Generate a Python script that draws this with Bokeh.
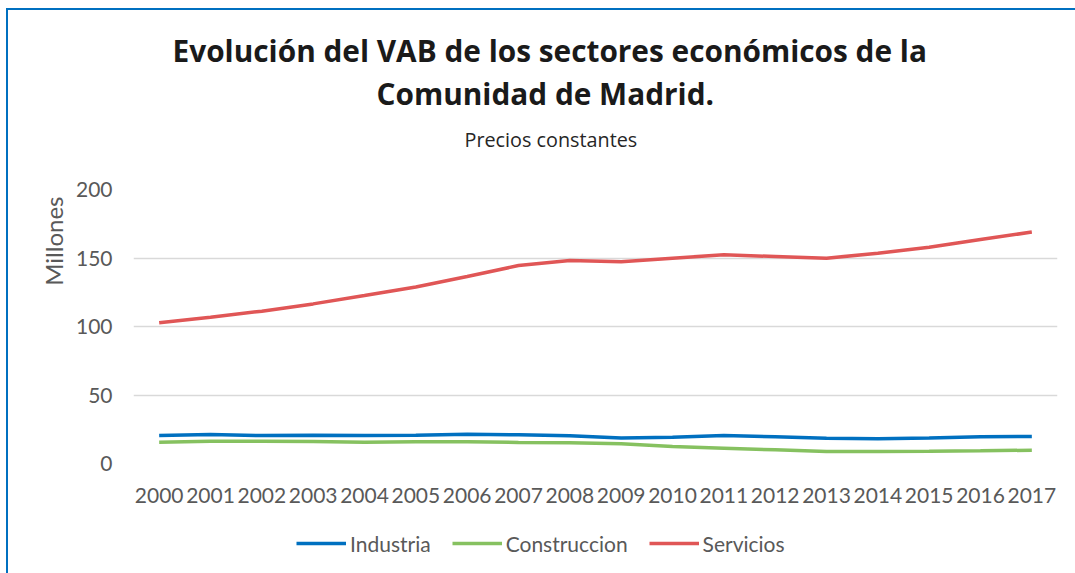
from bokeh.plotting import figure
from bokeh.layouts import column
from bokeh.models import FactorRange, Range1d, Legend, LegendItem, Title
from bokeh.embed import file_html
from bokeh.resources import INLINE

years = [str(y) for y in range(2000, 2018)]
industria = [20.4, 21.2, 20.4, 20.7, 20.4, 20.7, 21.4, 20.9, 20.2, 18.7, 19.2, 20.4, 19.5, 18.5, 18.0, 18.7, 19.5, 19.7]
construccion = [15.6, 16.3, 16.3, 16.1, 15.6, 15.8, 15.8, 15.4, 15.1, 14.4, 12.4, 11.2, 10.0, 8.8, 8.8, 9.0, 9.3, 9.7]
servicios = [102.7, 106.8, 111.2, 116.5, 122.6, 128.8, 136.5, 144.5, 148.2, 147.2, 149.9, 152.3, 151.1, 149.9, 153.5, 157.9, 163.5, 168.9]
y_ticks = [0, 50, 100, 150, 200]
series_names = ["Industria", "Construccion", "Servicios"]
series_colors = ["#0070C0", "#86C160", "#E05656"]

title_1 = "Evolución del VAB de los sectores económicos de la"
title_2 = "Comunidad de Madrid."
subtitle = "Precios constantes"
y_label = "Millones"

FONT = "Lato"
TFONT = "Open Sans"
GRAY = "#595959"

p = figure(frame_width=924, frame_height=274, x_range=FactorRange(*years, range_padding=0),
           y_range=Range1d(0, 200), output_backend="svg", toolbar_location=None,
           min_border_left=125, min_border_top=179, min_border_right=18, min_border_bottom=50)
p.outline_line_color = None
p.background_fill_color = "white"
p.border_fill_color = "white"

p.yaxis.ticker = y_ticks
for ax in (p.xaxis[0], p.yaxis[0]):
    ax.axis_line_color = None
    ax.major_tick_line_color = None
    ax.minor_tick_line_color = None
    ax.major_label_text_font = FONT
    ax.major_label_text_font_size = "21px"
    ax.major_label_text_color = GRAY
p.xaxis.major_label_standoff = 18
p.yaxis.major_label_standoff = 15
p.xgrid.grid_line_color = None
p.ygrid.grid_line_color = "#D9D9D9"
p.ygrid.grid_line_width = 1.3

series = [industria, construccion, servicios]
for vals, col in zip(series, series_colors):
    p.line(years, vals, line_color=col, line_width=3.5)


def spacer(size, side):
    p.add_layout(Title(text=" ", text_font=FONT, text_font_size=f"{size}px", standoff=0), side)


# titles stacked above the frame (first added = closest to the frame)
spacer(29.5, "above")
p.add_layout(Title(text=subtitle, align="left", offset=331, standoff=0,
                   text_font=TFONT, text_font_size="19.8px", text_font_style="normal",
                   text_color="#262626"), "above")
spacer(6.7, "above")
p.add_layout(Title(text=title_2, align="left", offset=243, standoff=0,
                   text_font=TFONT, text_font_size="29.8px", text_font_style="bold",
                   text_color="#1A1A1A"), "above")
p.add_layout(Title(text=title_1, align="left", offset=39, standoff=0,
                   text_font=TFONT, text_font_size="29.8px", text_font_style="bold",
                   text_color="#1A1A1A"), "above")

# y axis label, near the top of the axis
spacer(2.5, "left")
p.add_layout(Title(text=y_label, align="right", offset=7, standoff=0,
                   text_font=FONT, text_font_size="24px", text_font_style="normal",
                   text_color=GRAY), "left")

# legend strip below the chart (its lines lie outside its own visible range)
lg = figure(width=1067, height=60, x_range=FactorRange(*years), y_range=Range1d(-10, -5),
            output_backend="svg", toolbar_location=None, x_axis_location=None,
            y_axis_location=None, min_border=0)
lg.outline_line_color = None
lg.grid.visible = False
lg.background_fill_color = "white"
lg.border_fill_color = "white"
items = []
for name, vals, col in zip(series_names, series, series_colors):
    r = lg.line(years, vals, line_color=col, line_width=3.5)
    items.append(LegendItem(label=name, renderers=[r]))
legend = Legend(items=items, orientation="horizontal", location=(163, 17.5),
                glyph_width=50, glyph_height=20, label_standoff=4, spacing=21,
                padding=0, margin=0, border_line_color=None, background_fill_alpha=0,
                label_text_font=FONT, label_text_font_size="21px", label_text_color=GRAY)
lg.add_layout(legend, "center")

layout = column(p, lg, spacing=0,
                styles={"border-top": "2px solid #0070C0", "border-left": "2px solid #0070C0",
                        "margin-left": "6px", "margin-top": "8px"})

open("out.html", "w").write(file_html(layout, INLINE))
